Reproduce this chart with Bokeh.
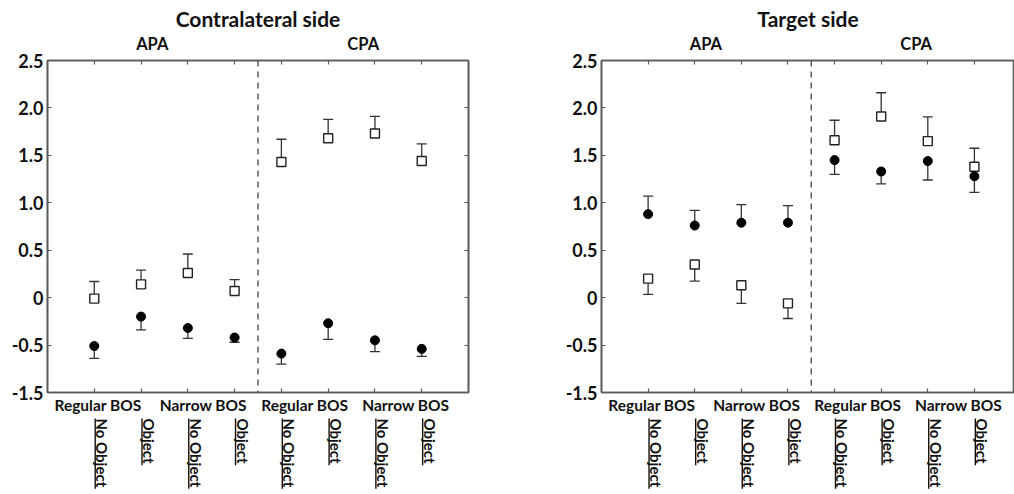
import math
from bokeh.plotting import figure
from bokeh.models import Span, FixedTicker, LinearAxis, Range1d, ColumnDataSource
from bokeh.layouts import row, column
from bokeh.core.properties import value
from bokeh.embed import file_html
from bokeh.resources import INLINE

# ---------------- data ----------------
positions = [1, 2, 3, 4, 5, 6, 7, 8]
panel_titles = ["Contralateral side", "Target side"]
phase_labels = ["APA", "CPA"]
phase_label_x = [2.24, 6.75]
bos_labels = ["Regular BOS", "Narrow BOS", "Regular BOS", "Narrow BOS"]
bos_label_x = [1.08, 3.33, 5.5, 7.66]
object_labels = ["No Object", "Object", "No Object", "Object",
                 "No Object", "Object", "No Object", "Object"]
y_ticks = [-1.0, -0.5, 0.0, 0.5, 1.0, 1.5, 2.0, 2.5]
y_tick_labels = ["-1.5", "-0.5", "0", "0.5", "1.0", "1.5", "2.0", "2.5"]

# Contralateral side
contra_square = [-0.01, 0.14, 0.26, 0.07, 1.43, 1.68, 1.73, 1.44]
contra_square_err = [0.18, 0.15, 0.20, 0.12, 0.24, 0.20, 0.18, 0.18]
contra_square_dir = [1, 1, 1, 1, 1, 1, 1, 1]
contra_circle = [-0.51, -0.20, -0.32, -0.42, -0.59, -0.27, -0.45, -0.54]
contra_circle_err = [0.13, 0.14, 0.11, 0.05, 0.11, 0.17, 0.12, 0.08]
contra_circle_dir = [-1, -1, -1, -1, -1, -1, -1, -1]

# Target side
target_square = [0.20, 0.35, 0.13, -0.06, 1.66, 1.91, 1.65, 1.38]
target_square_err = [0.165, 0.175, 0.19, 0.16, 0.21, 0.25, 0.255, 0.195]
target_square_dir = [-1, -1, -1, -1, 1, 1, 1, 1]
target_circle = [0.88, 0.76, 0.79, 0.79, 1.45, 1.33, 1.44, 1.28]
target_circle_err = [0.19, 0.16, 0.19, 0.18, 0.15, 0.13, 0.20, 0.17]
target_circle_dir = [1, 1, 1, 1, -1, -1, -1, -1]

FONT = "Lato"
FRAME = "#5a5a5a"
INK = "#111111"

MAIN_H = 417    # title + plot frame (60..392) + BOS labels
BOT_H = 494 - MAIN_H


def error_source(vals, errs, dirs):
    ends = [v + d * e for v, e, d in zip(vals, errs, dirs)]
    return ColumnDataSource(dict(x=positions, y=vals, y_end=ends))


def tick_axis(ticker):
    ax = LinearAxis(ticker=ticker)
    ax.major_label_text_color = None
    ax.major_label_text_font_size = "1px"
    ax.major_label_standoff = 0
    return ax


def label_axis(ticks, labels, size, standoff):
    ax = LinearAxis(ticker=FixedTicker(ticks=ticks, minor_ticks=[]),
                    major_label_overrides={t: l for t, l in zip(ticks, labels)})
    ax.axis_line_color = None
    ax.major_tick_line_color = None
    ax.minor_tick_line_color = None
    ax.major_tick_in = 0
    ax.major_tick_out = 0
    ax.major_label_standoff = standoff
    ax.major_label_text_font = FONT
    ax.major_label_text_font_style = "bold"
    ax.major_label_text_font_size = size
    ax.major_label_text_color = INK
    return ax


def make_panel(title, squares, sq_err, sq_dir, circles, ci_err, ci_dir,
               width, bl, br, x_end):
    xr = Range1d(0, x_end)

    p = figure(width=width, height=MAIN_H, output_backend="svg", toolbar_location=None,
               x_range=xr, y_range=Range1d(-1.0, 2.5),
               min_border_left=bl, min_border_right=br,
               min_border_top=60, min_border_bottom=MAIN_H - 392,
               x_axis_location=None, y_axis_location=None)
    p.grid.visible = False
    p.outline_line_color = FRAME
    p.outline_line_width = 1.6
    p.background_fill_color = "white"
    p.border_fill_color = "white"

    p.title.text = title
    p.title.align = "center"
    p.title.text_font = FONT
    p.title.text_font_style = "bold"
    p.title.text_font_size = "21px"
    p.title.text_color = INK
    p.title.standoff = 0

    xt = FixedTicker(ticks=positions, minor_ticks=[])
    yt = FixedTicker(ticks=y_ticks, minor_ticks=[])
    left = LinearAxis(ticker=yt,
                      major_label_overrides={t_: l for t_, l in zip(y_ticks, y_tick_labels)})
    left.major_label_text_font = FONT
    left.major_label_text_font_style = "bold"
    left.major_label_text_font_size = "18px"
    left.major_label_text_color = INK
    left.major_label_standoff = 4
    axes = [(left, "left"), (tick_axis(xt), "below"), (tick_axis(xt), "above")]
    if br > 10:
        axes.append((tick_axis(yt), "right"))
    for ax, side in axes:
        ax.axis_line_color = FRAME
        ax.axis_line_width = 1.6
        ax.major_tick_line_color = FRAME
        ax.major_tick_line_width = 1.2
        ax.major_tick_in = 4
        ax.major_tick_out = 0
        ax.minor_tick_line_color = None
        p.add_layout(ax, side)
    p.add_layout(label_axis(phase_label_x, phase_labels, "16.5px", 7), "above")
    p.add_layout(label_axis(bos_label_x, bos_labels, "15.5px", 3), "below")

    p.add_layout(Span(location=4.5, dimension="height", line_color=FRAME,
                      line_width=1.5, line_dash="6 5"))

    for vals, errs, dirs in ((squares, sq_err, sq_dir), (circles, ci_err, ci_dir)):
        src = error_source(vals, errs, dirs)
        p.segment(x0="x", y0="y", x1="x", y1="y_end", source=src,
                  line_color="#333333", line_width=1.3)
        p.scatter(x="x", y="y_end", source=src, marker="dash", size=10,
                  line_color="#333333", line_width=1.3)
    p.scatter(positions, squares, marker="square", size=9, fill_color="white",
              line_color="#222222", line_width=1.4)
    p.scatter(positions, circles, marker="circle", size=9, fill_color="black",
              line_color="black")

    # ---- rotated, underlined condition labels (y = -pixels below strip top) ----
    b = figure(width=width, height=BOT_H, output_backend="svg", toolbar_location=None,
               x_range=xr, y_range=Range1d(-BOT_H, 0),
               min_border_left=bl, min_border_right=br, min_border_top=0,
               min_border_bottom=0, x_axis_location=None, y_axis_location=None)
    b.grid.visible = False
    b.outline_line_color = None
    b.background_fill_color = "white"
    b.border_fill_color = "white"
    top = 418 - MAIN_H
    ox = [px + 0.17 for px in positions]
    b.text(x=ox, y=[-top] * len(object_labels), text=object_labels, angle=-math.pi / 2,
           text_align="left", text_baseline="middle", text_font=value(FONT),
           text_font_style="bold", text_font_size="15px", text_color=INK)
    ux = [px + 0.02 for px in positions]
    uy1 = [-top - 7.8 * len(lab) for lab in object_labels]
    b.segment(x0=ux, y0=[-top] * len(ux), x1=ux, y1=uy1, line_color=INK, line_width=1.4)

    return column(p, b, spacing=0)


c1 = make_panel(panel_titles[0], contra_square, contra_square_err, contra_square_dir,
                contra_circle, contra_circle_err, contra_circle_dir,
                width=520, bl=47, br=52, x_end=9)
c2 = make_panel(panel_titles[1], target_square, target_square_err, target_square_dir,
                target_circle, target_circle_err, target_circle_dir,
                width=494, bl=81, br=0, x_end=8.86)

layout = row(c1, c2, spacing=0)
open("out.html", "w").write(file_html(layout, INLINE))
